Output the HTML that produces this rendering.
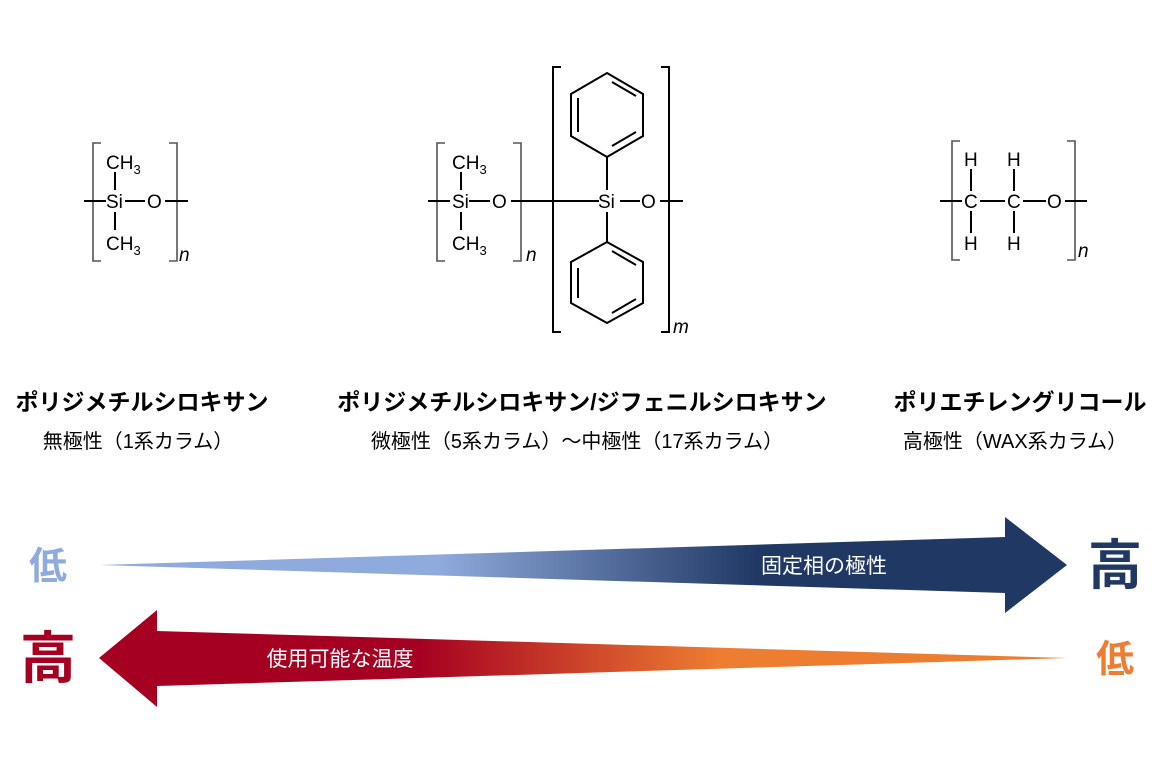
<!DOCTYPE html>
<html><head><meta charset="utf-8"><style>
html,body{margin:0;padding:0;background:#fff;}
svg{display:block;}
.a{font-family:"Liberation Sans",Arial,sans-serif;font-size:19px;fill:#000;}
.j{font-family:"Liberation Sans","Noto Sans CJK JP",sans-serif;}
</style></head><body>
<svg width="1160" height="774" viewBox="0 0 1160 774" xmlns="http://www.w3.org/2000/svg">
<defs>
<linearGradient id="gb" x1="100" y1="0" x2="1067" y2="0" gradientUnits="userSpaceOnUse">
<stop offset="0" stop-color="#8faadc"/><stop offset="0.35" stop-color="#8faadc"/><stop offset="0.68" stop-color="#203864"/><stop offset="1" stop-color="#203864"/></linearGradient>
<linearGradient id="gr" x1="99" y1="0" x2="1067" y2="0" gradientUnits="userSpaceOnUse">
<stop offset="0" stop-color="#a50021"/><stop offset="0.33" stop-color="#a50021"/><stop offset="0.64" stop-color="#ed7d31"/><stop offset="1" stop-color="#ed7d31"/></linearGradient>
</defs>
<g stroke="#000" stroke-width="2" fill="none">
<path d="M101 143H93V261H101M169 143H177V261H169" stroke="#555" stroke-width="1.6"/>
<path d="M84 201H106M125 201H145M165 201H188M115 172V190M115 212V230"/>
<path d="M445 143H437V261H445M513 143H521V261H513" stroke="#555" stroke-width="1.6"/>
<path d="M428 201H450M469 201H490M511 201H599M620 201H640M660 201H683M461 172V190M461 212V230"/>
<path d="M561 67H553V332H561M661 67H669V332H661"/>
<path d="M607 157V190M607 212V242"/>
<polygon points="607,73 643,94 643,136 607,157 571,136 571,94"/>
<path d="M612 82L636 96M636 132L612 146M578 98V132"/>
<polygon points="607,242 643,262 643,303 607,323 571,303 571,262"/>
<path d="M612 251L636 265M636 299L612 313M578 268V298"/>
<path d="M960 141H952V260H960M1067 141H1075V260H1067" stroke="#555" stroke-width="1.6"/>
<path d="M940 201H962M980 201H1005M1023 201H1046M1065 201H1087M971 169V191M971 211V233M1014 169V191M1014 211V233"/>
</g>
<g class="a">
<text x="106" y="169">CH<tspan font-size="13" dy="5">3</tspan></text>
<text x="106" y="208">Si</text><text x="147" y="208">O</text>
<text x="106" y="250">CH<tspan font-size="13" dy="5">3</tspan></text>
<text x="179" y="261" font-style="italic">n</text>
<text x="452" y="169">CH<tspan font-size="13" dy="5">3</tspan></text>
<text x="452" y="208">Si</text><text x="492" y="208">O</text>
<text x="452" y="250">CH<tspan font-size="13" dy="5">3</tspan></text>
<text x="526" y="261" font-style="italic">n</text>
<text x="598" y="208">Si</text><text x="641" y="208">O</text>
<text x="673" y="333" font-style="italic">m</text>
<text x="964" y="166">H</text><text x="1007" y="166">H</text>
<text x="964" y="208">C</text><text x="1007" y="208">C</text><text x="1047" y="208">O</text>
<text x="964" y="250">H</text><text x="1007" y="250">H</text>
<text x="1078" y="257" font-style="italic">n</text>
</g>
<g class="j" text-anchor="middle">
<text x="142" y="410" font-size="23" font-weight="bold">ポリジメチルシロキサン</text>
<text x="138" y="448" font-size="20">無極性（1系カラム）</text>
<text x="582" y="410" font-size="23" font-weight="bold">ポリジメチルシロキサン/ジフェニルシロキサン</text>
<text x="577" y="448" font-size="20">微極性（5系カラム）～中極性（17系カラム）</text>
<text x="1020" y="410" font-size="23" font-weight="bold">ポリエチレングリコール</text>
<text x="1015" y="448" font-size="20">高極性（WAX系カラム）</text>
</g>
<polygon points="100,565 1005,537 1005,517 1067,565 1005,613 1005,593" fill="url(#gb)"/>
<polygon points="99,658 157,610 157,631 1067,658 157,686 157,707" fill="url(#gr)"/>
<g class="j" text-anchor="middle">
<text x="824" y="573" font-size="21" fill="#fff">固定相の極性</text>
<text x="340" y="666" font-size="21" fill="#fff">使用可能な温度</text>
<text x="48" y="579" font-size="38" font-weight="bold" fill="#8faadc">低</text>
<text x="1115" y="584" font-size="54" font-weight="bold" fill="#203864">高</text>
<text x="48" y="678" font-size="56" font-weight="bold" fill="#a50021">高</text>
<text x="1115" y="672" font-size="38" font-weight="bold" fill="#ed7d31">低</text>
</g>
</svg>
</body></html>
